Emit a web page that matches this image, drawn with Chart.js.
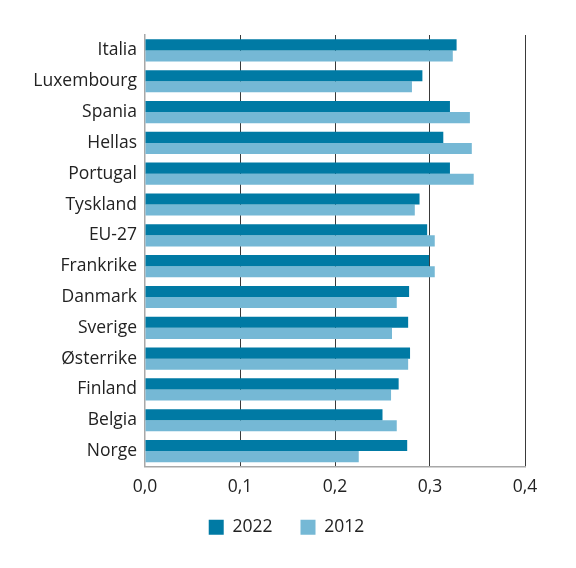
<!DOCTYPE html>
<html>
<head>
<meta charset="utf-8">
<script src="https://cdn.jsdelivr.net/npm/chart.js@4"></script>
<style>
html,body{margin:0;padding:0;background:#fff;}
#wrap{width:576px;height:568px;}
</style>
</head>
<body>
<div id="wrap"><canvas id="c" width="576" height="568"></canvas></div>
<script>
const categories = ["Italia","Luxembourg","Spania","Hellas","Portugal","Tyskland","EU-27","Frankrike","Danmark","Sverige","Østerrike","Finland","Belgia","Norge"];
const values2022 = [0.328,0.292,0.321,0.314,0.321,0.289,0.297,0.299,0.278,0.277,0.279,0.267,0.250,0.276];
const values2012 = [0.324,0.281,0.342,0.344,0.346,0.284,0.305,0.305,0.265,0.260,0.277,0.259,0.265,0.225];
const seriesLabels = ["2022","2012"];
const xTicks = [0,0.1,0.2,0.3,0.4];

const FONT = "'Open Sans', sans-serif";
const FS = 17.5;

const legendShift = {
  id: 'legendShift',
  afterLayout(chart) {
    const lg = chart.legend;
    if (!lg) return;
    lg.left += 24; lg.right += 24;
    lg.top -= 17; lg.bottom -= 17;
  }
};

new Chart(document.getElementById('c'), {
  type: 'bar',
  data: {
    labels: categories,
    datasets: [
      {label: seriesLabels[0], data: values2022, backgroundColor: 'rgb(0,122,164)', barPercentage: 1, categoryPercentage: 0.72},
      {label: seriesLabels[1], data: values2012, backgroundColor: 'rgb(117,184,213)', barPercentage: 1, categoryPercentage: 0.72}
    ]
  },
  plugins: [legendShift],
  options: {
    indexAxis: 'y',
    responsive: false,
    animation: false,
    layout: {padding: {top: 35, right: 51, left: 0, bottom: 5}},
    plugins: {
      tooltip: {enabled: false},
      legend: {
        position: 'bottom',
        labels: {
          boxWidth: 15, boxHeight: 15, padding: 28,
          color: '#222',
          font: {family: FONT, size: FS}
        }
      }
    },
    scales: {
      x: {
        min: 0, max: 0.4,
        afterBuildTicks: s => { s.ticks = xTicks.map(v => ({value: v})); },
        ticks: {
          color: '#222', padding: 10,
          font: {family: FONT, size: FS},
          callback: v => Number(v).toFixed(1).replace('.', ',')
        },
        grid: {
          drawTicks: false,
          color: ctx => (ctx.tick && ctx.tick.value === 0) ? 'rgba(0,0,0,0)' : '#3a3a3a',
          lineWidth: 1
        },
        border: {display: true, color: '#a8a8a8', width: 1.5}
      },
      y: {
        afterFit: s => { s.width = 145; },
        ticks: {
          color: '#222', padding: 8,
          font: {family: FONT, size: FS}
        },
        grid: {display: false, drawTicks: false},
        border: {display: true, color: '#a8a8a8', width: 1.5}
      }
    }
  }
});
</script>
</body>
</html>
